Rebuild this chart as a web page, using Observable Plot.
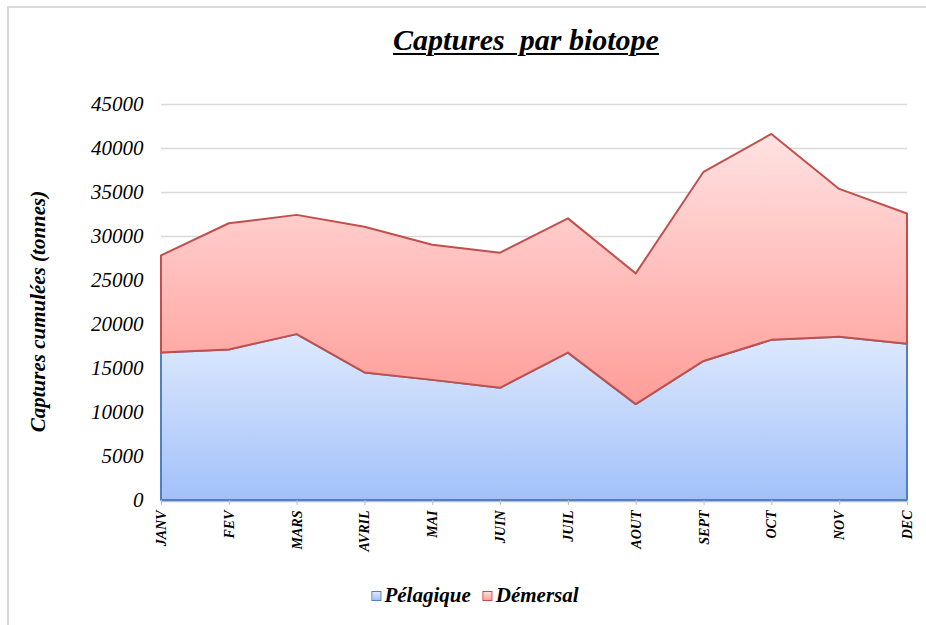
<!DOCTYPE html>
<html><head><meta charset="utf-8">
<script src="https://cdn.jsdelivr.net/npm/d3@7"></script>
<script src="https://cdn.jsdelivr.net/npm/@observablehq/plot@0.6"></script>
<style>
body{margin:0;background:#fff;font-family:"Liberation Serif","Times New Roman",serif;}
#wrap{position:relative;width:926px;height:625px;overflow:hidden;}
#frame{position:absolute;left:7px;top:6px;width:960px;height:660px;border-left:2px solid #d9d9d9;border-top:2px solid #d9d9d9;}
#title{position:relative;height:70px;}
#title span{position:absolute;left:526px;top:23px;transform:translateX(-50%);white-space:pre;font-size:30px;line-height:34px;font-weight:bold;font-style:italic;text-decoration:underline;text-decoration-thickness:2px;text-underline-offset:3px;color:#000;}
#chart{position:relative;height:490px;}
#legend{position:relative;height:65px;}
#legend .items{position:absolute;left:475px;top:23px;transform:translateX(-50%);display:flex;align-items:center;white-space:nowrap;font-size:21px;font-weight:bold;font-style:italic;}
.sw{display:inline-block;width:8px;height:8px;margin-right:3px;}
.sw.p{border:1.5px solid #4f81bd;background:linear-gradient(#dee9fd,#a2c1f9);}
.sw.d{border:1.5px solid #c0504d;background:linear-gradient(#ffe0e0,#ff9e99);margin-left:12px;}
</style></head>
<body>
<div id="wrap">
<div id="frame"></div>
<div id="title"><span>Captures  par biotope</span></div>
<div id="chart"></div>
<div id="legend"><div class="items"><span class="sw p"></span><span>Pélagique</span><span class="sw d"></span><span>Démersal</span></div></div>
</div>
<script>
const months = ["JANV","FEV","MARS","AVRIL","MAI","JUIN","JUIL","AOUT","SEPT","OCT","NOV","DEC"];
const pelagique = [16750,17100,18850,14500,13650,12750,16750,10900,15800,18200,18550,17750];
const demersal = [11050,14350,13550,16550,15350,15350,15250,14850,21500,23400,16800,14800];
const yTicks = [0,5000,10000,15000,20000,25000,30000,35000,40000,45000];

const rows = months.map((m,i)=>({i, month:m, pel:pelagique[i], dem:demersal[i], top:pelagique[i]+demersal[i]}));
const xIdx = months.map((m,i)=>i);

const plot = Plot.plot({
  width: 926, height: 490,
  marginLeft: 161, marginRight: 19, marginTop: 34, marginBottom: 60,
  style: {fontFamily: '"Liberation Serif","Times New Roman",serif', background: "transparent", overflow: "visible"},
  x: {type: "linear", domain: [0, months.length - 1], label: null},
  y: {domain: [0,45000], label: null},
  marks: [
    Plot.gridY(yTicks, {stroke: "#d9d9d9", strokeOpacity: 1, strokeWidth: 1.5}),
    Plot.ruleY([0], {stroke: "#bfbfbf", strokeWidth: 1.5, dy: 1}),
    Plot.areaY(rows, {x: "i", y1: 0, y2: "pel", fill: "url(#gradP)", stroke: "#4f81bd", strokeWidth: 2}),
    Plot.areaY(rows, {x: "i", y1: "pel", y2: "top", fill: "url(#gradD)", stroke: "#c0504d", strokeWidth: 2, strokeLinejoin: "round"}),
    Plot.axisY({ticks: yTicks, tickSize: 0, tickPadding: 18, tickFormat: d3.format("d"), fontSize: 21, fontStyle: "italic", fill: "#000", label: null}),
    Plot.axisX({ticks: xIdx, tickFormat: i => months[i], tickRotate: -90, tickSize: 5, tickPadding: 5, stroke: "#bfbfbf", fontSize: 14, fontStyle: "italic", fontWeight: "bold", fill: "#000", label: null}),
    Plot.text(["Captures cumulées (tonnes)"], {frameAnchor: "left", textAnchor: "middle", rotate: -90, dx: -123, dy: 9, fontSize: 21, fontWeight: "bold", fontStyle: "italic", fill: "#000"})
  ]
});

const svg = d3.select(plot);
const defs = svg.insert("defs", ":first-child");
const gp = defs.append("linearGradient").attr("id","gradP").attr("x1",0).attr("y1",0).attr("x2",0).attr("y2",1);
gp.append("stop").attr("offset","0%").attr("stop-color","#dee9fd");
gp.append("stop").attr("offset","100%").attr("stop-color","#a2c1f9");
const gd = defs.append("linearGradient").attr("id","gradD").attr("x1",0).attr("y1",0).attr("x2",0).attr("y2",1);
gd.append("stop").attr("offset","0%").attr("stop-color","#ffe2e2");
gd.append("stop").attr("offset","100%").attr("stop-color","#ff9d98");

document.getElementById("chart").appendChild(plot);
</script>
</body></html>
